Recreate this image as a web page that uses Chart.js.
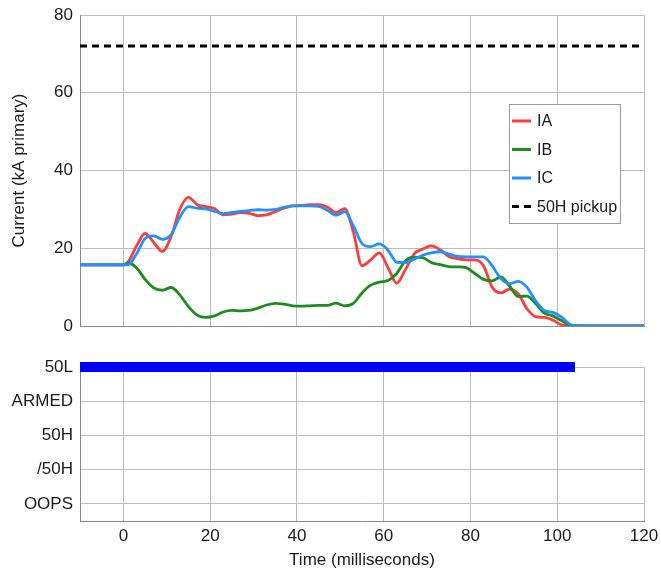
<!DOCTYPE html>
<html lang="en">
<head>
    <meta charset="UTF-8">
    <title>Fault currents and 50 element status</title>
    <script src="https://cdn.jsdelivr.net/npm/chart.js"></script>
    <style>
        body { margin: 0; background: #fff; }
        canvas { position: absolute; left: 0; }
        #currentChart { top: 0; }
        #statusChart { top: 340px; }
    </style>
</head>
<body>

    <canvas id="currentChart" width="661" height="340"></canvas>
    <canvas id="statusChart" width="661" height="231"></canvas>

    <script>
        // sample times (ms) shared by the three phase currents
        const timeMs = [-10, 0, 1, 3, 5, 7, 9, 11, 13, 15, 17, 19, 21, 23, 25, 27, 29, 31, 33, 35,
            37, 39, 41, 43, 45, 47, 49, 51, 53, 55, 57, 59, 61, 63, 65, 67, 69, 71, 73, 75,
            77, 79, 81, 83, 85, 87, 89, 91, 93, 95, 97, 99, 101, 103, 105, 120];

        // phase currents, kA primary
        const currentIA = [15.7, 15.7, 16.3, 20.5, 23.8, 21.5, 19.2, 23, 30, 33.1, 31.2, 30.7, 30.2, 28.6, 28.8, 29.2, 29.0, 28.4, 28.6, 29.4,
            30.3, 30.9, 31.0, 31.2, 31.2, 30.6, 29.2, 30.2, 24.2, 15.5, 17.0, 18.8, 15.0, 11.0, 14.5, 18.5, 19.8, 20.6, 19.6, 17.9,
            17.3, 17.0, 17.0, 15.5, 10.0, 8.5, 9.5, 8.3, 4.5, 2.4, 2.2, 1.5, 0.3, 0, 0, 0];
        const currentIB = [15.7, 15.7, 16.2, 15.0, 12.0, 9.8, 9.2, 9.9, 8.0, 5.0, 2.8, 2.2, 2.6, 3.6, 4.0, 3.9, 4.0, 4.6, 5.4, 5.8,
            5.6, 5.2, 5.1, 5.2, 5.3, 5.3, 5.9, 5.2, 5.8, 8.5, 10.5, 11.3, 11.7, 13.5, 16.8, 17.7, 17.6, 16.3, 15.8, 15.3,
            15.2, 15.0, 13.5, 12.0, 11.6, 12.6, 10.3, 7.6, 7.7, 5.8, 3.3, 2.6, 1.4, 0.2, 0, 0];
        const currentIC = [15.7, 15.7, 15.7, 18.5, 22.5, 23.2, 22.3, 23.5, 28, 30.7, 30.3, 30.1, 29.5, 28.9, 29.2, 29.5, 29.7, 29.9, 29.8, 30.0,
            30.5, 30.9, 30.9, 30.9, 30.8, 29.8, 28.5, 29.4, 25.8, 21.2, 20.4, 21.1, 19.5, 16.4, 16.3, 17.2, 18.2, 18.8, 19.1, 18.5,
            17.9, 17.8, 17.8, 17.8, 15.5, 12.2, 10.9, 11.5, 10.0, 6.5, 4.0, 3.5, 2.3, 0.4, 0, 0];

        const pickup50H = 72;     // kA
        const timeRange = [-10, 120];
        const timeTicks = [0, 20, 40, 60, 80, 100, 120];
        const currentTicks = [0, 20, 40, 60, 80];

        // digital elements, top to bottom, with the intervals (ms) where they are asserted
        const statusNames = ['50L', 'ARMED', '50H', '/50H', 'OOPS'];
        const statusOn = [[[-10, 104.1]], [], [], [], []];

        const fontFamily = '"Liberation Sans", Arial, sans-serif';
        const textColor = '#1a1a1a';
        const gridColor = '#bdbdbd';
        const frameColor = '#8a8a8a';

        Chart.defaults.font.family = fontFamily;
        Chart.defaults.font.size = 17;
        Chart.defaults.color = textColor;

        function points(values) {
            return values.map((v, i) => ({ x: timeMs[i], y: v }));
        }

        // legend drawn inside the plot like the scope screenshot
        const boxLegend = {
            id: 'boxLegend',
            afterDraw(chart) {
                const ctx = chart.ctx;
                const x0 = 509, y0 = 104, w = 111, h = 119;
                ctx.save();
                ctx.fillStyle = '#fff';
                ctx.fillRect(x0, y0, w, h);
                ctx.strokeStyle = '#9a9a9a';
                ctx.lineWidth = 1;
                ctx.strokeRect(x0 + 0.5, y0 + 0.5, w, h);
                ctx.font = '16px ' + fontFamily;
                ctx.textBaseline = 'middle';
                ctx.fillStyle = textColor;
                chart.data.datasets.forEach((ds, i) => {
                    const y = 121 + i * 28.5;
                    ctx.strokeStyle = ds.borderColor;
                    ctx.lineWidth = 3;
                    ctx.setLineDash(ds.borderDash || []);
                    ctx.beginPath();
                    ctx.moveTo(512, y);
                    ctx.lineTo(531, y);
                    ctx.stroke();
                    ctx.setLineDash([]);
                    ctx.fillText(ds.label, 537, y + 1);
                });
                ctx.restore();
            }
        };

        function fixedTicks(list) {
            return scale => { scale.ticks = list.map(v => ({ value: v })); };
        }

        // keep the plot edges where the original has them, labels may overhang
        function noSidePadding(scale) {
            scale.paddingLeft = 0;
            scale.paddingRight = 0;
        }
        function noEndPadding(scale) {
            scale.paddingTop = 0;
            scale.paddingBottom = 0;
        }

        new Chart(document.getElementById('currentChart'), {
            type: 'line',
            data: {
                datasets: [
                    { label: 'IA', data: points(currentIA), borderColor: '#ff3c3c', order: 3 },
                    { label: 'IB', data: points(currentIB), borderColor: '#1c8c1c', order: 2 },
                    { label: 'IC', data: points(currentIC), borderColor: '#2191ff', order: 1 },
                    {
                        label: '50H pickup',
                        data: [{ x: timeRange[0], y: pickup50H }, { x: timeRange[1], y: pickup50H }],
                        borderColor: '#000', borderDash: [7, 5], borderWidth: 3, order: 0
                    }
                ]
            },
            options: {
                responsive: false,
                animation: false,
                layout: { padding: { top: 15, right: 17, bottom: 14, left: 0 } },
                elements: {
                    point: { radius: 0 },
                    line: { borderWidth: 2.8, cubicInterpolationMode: 'monotone' }
                },
                plugins: { legend: { display: false }, tooltip: { enabled: false } },
                scales: {
                    x: {
                        type: 'linear', min: timeRange[0], max: timeRange[1],
                        afterBuildTicks: fixedTicks(timeTicks),
                        afterFit: s => { s.height = 0; noSidePadding(s); },
                        ticks: { display: false },
                        grid: { color: gridColor, drawTicks: false },
                        border: { color: frameColor }
                    },
                    y: {
                        min: 0, max: 80,
                        afterBuildTicks: fixedTicks(currentTicks),
                        afterFit: s => { s.width = 80; noEndPadding(s); },
                        ticks: { padding: 7 },
                        grid: { color: gridColor, drawTicks: false },
                        border: { color: frameColor },
                        title: { display: true, text: 'Current (kA primary)', padding: { top: 9, bottom: 0 } }
                    }
                }
            },
            plugins: [boxLegend]
        });

        // status channels: level 4 is the top row (50L)
        const statusSets = [];
        statusOn.forEach((spans, i) => {
            const level = statusNames.length - 1 - i;
            spans.forEach(span => {
                statusSets.push({
                    label: statusNames[i],
                    data: [{ x: span[0], y: level }, { x: span[1], y: level }],
                    borderColor: '#0000ff',
                    borderWidth: 10,
                    borderCapStyle: 'butt',
                    clip: false
                });
            });
        });

        new Chart(document.getElementById('statusChart'), {
            type: 'line',
            data: { datasets: statusSets },
            options: {
                responsive: false,
                animation: false,
                layout: { padding: { top: 27, right: 17, bottom: 0, left: 0 } },
                elements: { point: { radius: 0 } },
                plugins: { legend: { display: false }, tooltip: { enabled: false } },
                scales: {
                    x: {
                        type: 'linear', min: timeRange[0], max: timeRange[1],
                        afterBuildTicks: fixedTicks(timeTicks),
                        afterFit: s => { s.height = 50; noSidePadding(s); },
                        ticks: { padding: 5 },
                        grid: { color: gridColor, drawTicks: false },
                        border: { color: frameColor },
                        title: { display: true, text: 'Time (milliseconds)', padding: { top: 0, bottom: 0 } }
                    },
                    y: {
                        min: -0.5, max: statusNames.length - 1,
                        afterBuildTicks: fixedTicks(statusNames.map((n, i) => i)),
                        afterFit: s => { s.width = 80; noEndPadding(s); },
                        ticks: {
                            padding: 7,
                            callback: v => statusNames[statusNames.length - 1 - v]
                        },
                        grid: { color: gridColor, drawTicks: false },
                        border: { color: frameColor }
                    }
                }
            }
        });
    </script>
</body>
</html>
